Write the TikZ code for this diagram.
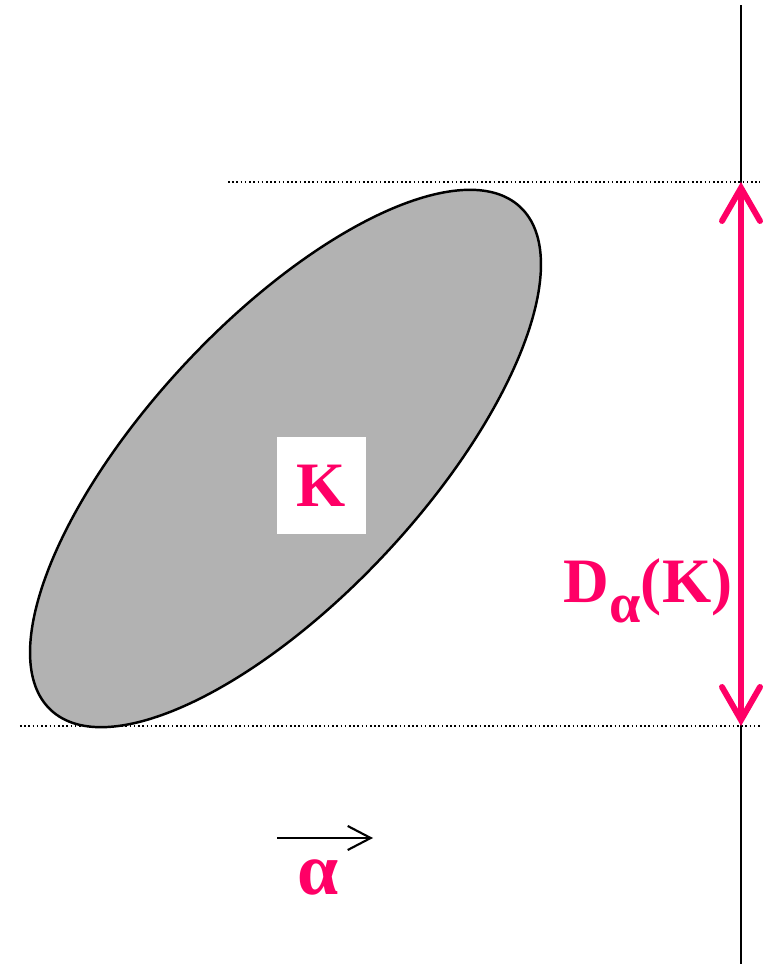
\documentclass[tikz,border=0pt]{standalone}
\usepackage{fontspec}
\setmainfont{Liberation Serif}
\usetikzlibrary{arrows.meta}
\definecolor{magentarot}{RGB}{255,0,102}
\tikzset{
    punkte/.style={line width=0.45pt, dash pattern=on 0.45pt off 0.75pt},
    beschrift/.style={text=magentarot, inner sep=0pt, font=\bfseries\fontsize{18}{20}\selectfont}
}
\begin{document}
\begin{tikzpicture}[>={Straight Barb[length=2.3mm,width=2.4mm]}]
        % Ellipse K mit Breite in Richtung alpha
        \useasboundingbox (0,0) rectangle (7.63,9.64);
        \coordinate (achseU) at (7.41,0);
        \coordinate (achseO) at (7.41,9.59);
        \coordinate (oben) at (7.41,7.82);
        \coordinate (unten) at (7.41,2.38);
        \coordinate (obenL) at (2.28,7.82);
        \coordinate (obenR) at (7.60,7.82);
        \coordinate (untenL) at (0.20,2.38);
        \coordinate (untenR) at (7.60,2.38);
        \draw[line width=0.6pt] (achseU) -- (achseO);
        \draw[punkte] (obenL) -- (obenR);
        \draw[punkte] (untenL) -- (untenR);
        \draw[fill=black!30, line width=0.7pt, rotate around={47:(2.855,5.055)}]
            (2.855,5.055) ellipse (3.44 and 1.38);
        \node[beschrift, fill=white, minimum width=0.89cm, minimum height=0.97cm] (K) at (3.215,4.785) {K};
        \draw[<->, magentarot, line width=1.7pt, >={Straight Barb[length=3.3mm,width=3.8mm,line cap=round]}] (unten) -- (oben);
        \node[beschrift, anchor=base east] (D) at (7.33,3.61)
            {D\raisebox{-5.5pt}{\fontsize{16}{16}\selectfont α}(K)};
        % Richtung alpha
        \coordinate (pa) at (2.77,1.26);
        \coordinate (pe) at (3.73,1.26);
        \draw[->, line width=0.6pt] (pa) -- (pe);
        \node[text=magentarot, font=\bfseries\fontsize{21}{22}\selectfont] (alpha) at (3.18,0.87) {α};
    \end{tikzpicture}
\end{document}
